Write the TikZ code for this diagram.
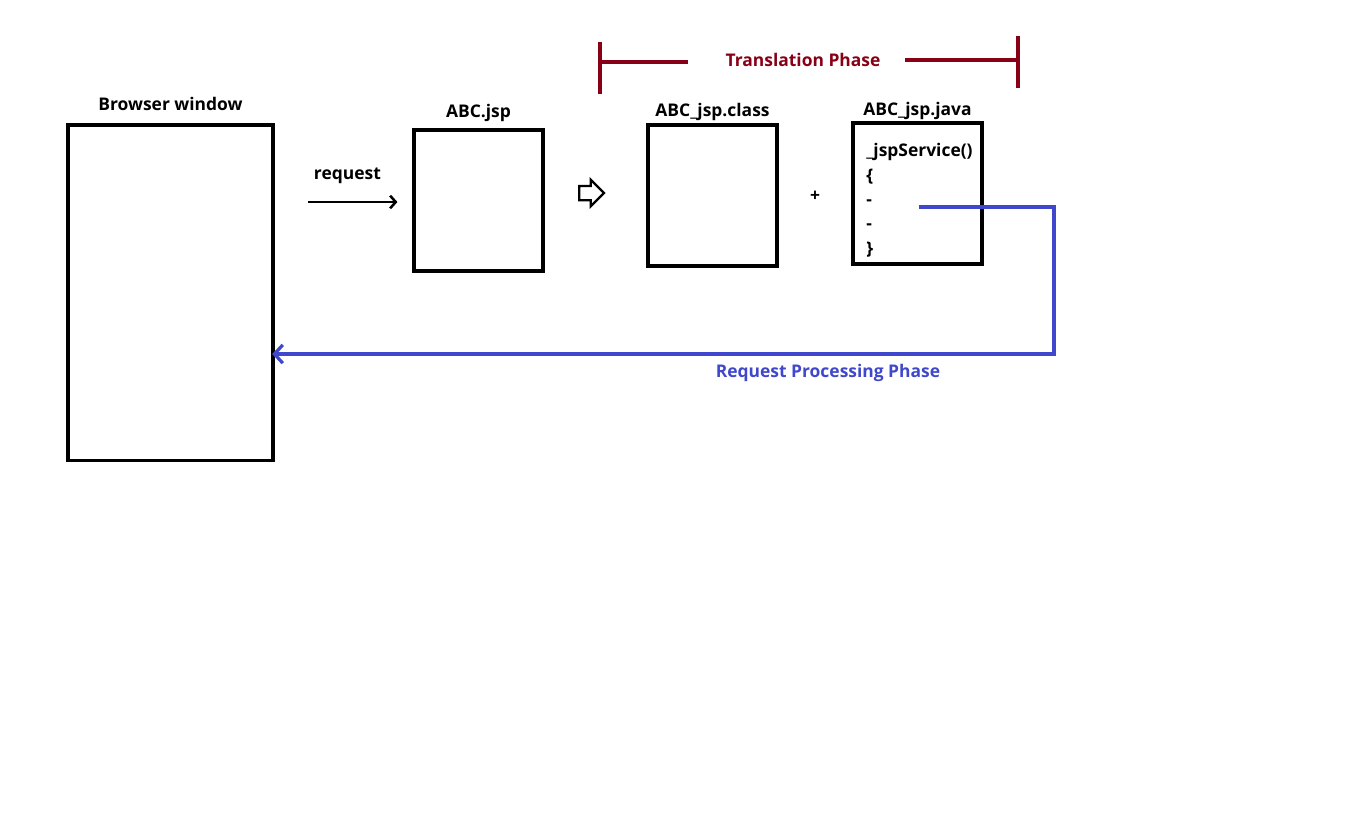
\documentclass[tikz,border=0pt]{standalone}
\usepackage{fontspec}
\setmainfont{Open Sans}
\usepackage{xcolor}
\usetikzlibrary{arrows.meta, positioning, shapes.arrows}

\definecolor{phasered}{HTML}{880015}
\definecolor{phaseblue}{HTML}{3F48CC}

\begin{document}
\begin{tikzpicture}[x=0.025cm, y=-0.025cm, >={Straight Barb[length=5pt, width=10pt]}]
        % Styles
        \tikzset{
            filebox/.style={draw=black, rectangle, line width=2.2pt, minimum width=3.225cm, minimum height=3.525cm, inner sep=0pt},
            boxlabel/.style={font=\fontsize{12.4}{14}\selectfont\bfseries, inner sep=0pt},
            codetext/.style={font=\fontsize{12.4}{17.4}\selectfont\bfseries, align=left, inner sep=0pt, anchor=north west},
            translationline/.style={draw=phasered, line width=2.3pt},
            processline/.style={draw=phaseblue, line width=2.3pt}
        }
        \useasboundingbox (0,0) rectangle (1358,831);

        % Boxes
        \node [filebox, minimum width=5.125cm, minimum height=8.375cm] (browser) at (170.5,292.5) {};
        \node [filebox] (jsp) at (478.5,200.5) {};
        \node [filebox] (classfile) at (712.5,195.5) {};
        \node [filebox] (javafile) at (917.5,193.5) {};

        % Labels
        \node [boxlabel, above=0.3cm of browser] {Browser window};
        \node [boxlabel, above=0.15cm of jsp] {ABC.jsp};
        \node [boxlabel, above=0.07cm of classfile] {ABC\_jsp.class};
        \node [boxlabel, above=0.03cm of javafile] {ABC\_jsp.java};
        \node [codetext] (code) at (866,143) {\_jspService()\\\{\\-\\-\\\}};
        \node [boxlabel] (plus) at (815,196) {+};

        % Request
        \coordinate (reqfrom) at (308,202);
        \draw [->, >={Straight Barb[length=4pt, width=9pt]}, line width=1.8pt, shorten >=0.375cm] (reqfrom) -- node[boxlabel, above=0.42cm, xshift=-0.32cm]{request} (reqfrom -| jsp.west);
        \node [single arrow, draw, line width=1.6pt, inner sep=0.15cm, minimum height=0.62cm, single arrow head extend=0.15cm] (translate) at (588,193) {};

        % Translation Phase
        \node [boxlabel, text=phasered] (tphase) at (803,60) {Translation Phase};
        \coordinate (tl) at (600,62);
        \coordinate (tlend) at (688,62);
        \coordinate (tr) at (1018,60);
        \coordinate (trend) at (905,60);
        \draw [translationline] (tl) ++(0,-20) -- ++(0,52);
        \draw [translationline] (tr) ++(0,-24) -- ++(0,52);
        \draw [translationline] (tl) -- (tlend);
        \draw [translationline] (trend) -- (tr);

        % Request Processing Phase
        \coordinate (service) at (919,207);
        \coordinate (turn) at (1054,354);
        \draw [processline, ->, >={Straight Barb[length=6pt, width=13pt]}, shorten >=-0.06cm] (service) -| (turn) -- node[pos=0.29, below=0.22cm, boxlabel, text=phaseblue]{Request Processing Phase} (turn -| browser.east);
    \end{tikzpicture}
\end{document}
